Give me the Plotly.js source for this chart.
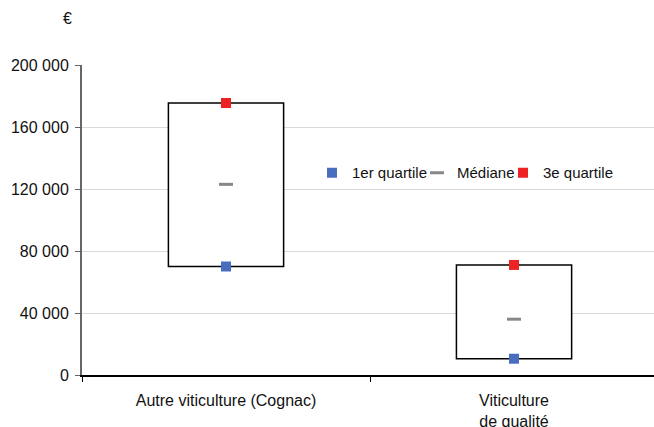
<!DOCTYPE html>
<html><head><meta charset="utf-8">
<script src="https://cdn.plot.ly/plotly-3.0.1.min.js"></script>
<style>html,body{margin:0;padding:0;background:#fff;}#chart{width:654px;height:427px;}</style>
</head><body><div id="chart"></div>
<script>
const categories = ["Autre viticulture (Cognac)", "Viticulture<br>de qualité"];
const q1 = [70000, 10500];
const median = [123000, 36000];
const q3 = [175500, 71000];
const yTicks = [0, 40000, 80000, 120000, 160000, 200000];

const font = {family: "Liberation Sans, Arial, sans-serif", size: 16, color: "#111"};
const legendFont = {family: "Liberation Sans, Arial, sans-serif", size: 15, color: "#111"};

const traces = [
  {type: "bar", x: categories, y: q3.map((v, i) => v - q1[i]), base: q1, width: 0.4,
   marker: {color: "#fff", line: {color: "#000", width: 1.5}}, showlegend: false, hoverinfo: "skip"},
  {type: "scatter", mode: "markers", name: "1er quartile", x: categories, y: q1, legend: "legend",
   marker: {symbol: "square", size: 10, color: "#4a6ebf"}},
  {type: "scatter", mode: "markers", name: "Médiane", x: categories, y: median, legend: "legend2",
   marker: {symbol: "line-ew", size: 10, line: {width: 3, color: "#888"}}},
  {type: "scatter", mode: "markers", name: "3e quartile", x: categories, y: q3, legend: "legend3",
   marker: {symbol: "square", size: 10, color: "#ee2222"}}
];

function leg(x) {
  return {orientation: "h", x: x, y: 0.652, xanchor: "left", yanchor: "middle",
          font: legendFont, bgcolor: "rgba(0,0,0,0)", itemwidth: 30};
}

const layout = {
  width: 654, height: 427,
  margin: {l: 82, r: 0, t: 65, b: 52, autoexpand: false},
  paper_bgcolor: "#fff", plot_bgcolor: "#fff",
  font: font,
  separators: ", ",
  showlegend: true,
  legend: leg(0.4021),
  legend2: leg(0.5857),
  legend3: leg(0.7360),
  xaxis: {type: "category", range: [-0.5, 1.486], tickson: "boundaries", ticks: "outside",
          ticklen: 5, tickcolor: "#000", showline: true, linecolor: "#000", linewidth: 1.5,
          ticklabelstandoff: 10,
          showgrid: false, zeroline: false, fixedrange: true, automargin: false},
  yaxis: {range: [0, 200000], tickvals: yTicks, tickformat: ",d", ticks: "outside", ticklen: 5,
          tickcolor: "#666", showline: true, linecolor: "#666", linewidth: 2, ticklabelstandoff: 3,
          showgrid: true, gridcolor: "#d9d9d9", gridwidth: 1, zeroline: false, fixedrange: true,
          automargin: false},
  annotations: [{text: "€", xref: "paper", yref: "paper", x: -0.025, y: 1.15,
                 xanchor: "center", yanchor: "middle", showarrow: false, font: font}]
};

Plotly.newPlot("chart", traces, layout, {displayModeBar: false, staticPlot: true});
</script></body></html>
